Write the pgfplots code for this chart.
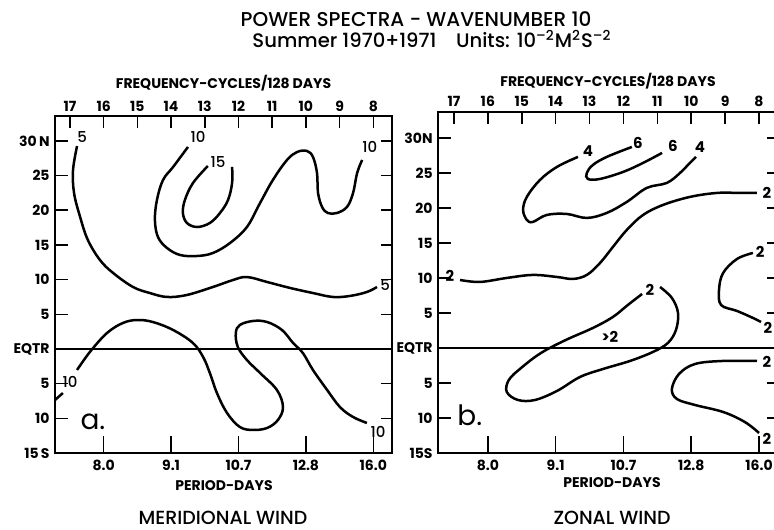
\documentclass[border=0pt]{standalone}
\usepackage{fontspec}
\setmainfont{Poppins}
\newfontfamily\pmed{Poppins Medium}
\usepackage{pgfplots}
\pgfplotsset{compat=1.18}
\pgfplotsset{
  common/.style={scale only axis, x dir=reverse, anchor=south west,
    axis line style={line width=0.9pt}, tick style={line width=0.8pt, black},
    tick align=inside,
    ticklabel style={font=\bfseries\fontsize{7}{8}\selectfont, inner sep=0pt}},
  geomA/.style={common, width=168.5pt, height=168.5pt, xmin=7.445, xmax=17.445, ymin=-15, ymax=33.6, at={(27.5pt,38pt)}},
  geomB/.style={common, width=170pt, height=170.5pt, xmin=7.44, xmax=17.47, ymin=-15, ymax=33.7, at={(219pt,38pt)}},
  botx/.style={xtick={8,10,12,14,16}, xticklabels={16.0,12.8,10.7,9.1,8.0}, xtick pos=left, xticklabel pos=left, ytick=\empty, major tick length=8.5pt, xticklabel style={anchor=north, yshift=-3.5pt}},
  topx/.style={xtick={8,9,10,11,12,13,14,15,16,17}, xticklabels={8,9,10,11,12,13,14,15,16,17}, xtick pos=right, xticklabel pos=right, ytick=\empty, major tick length=6pt, xticklabel style={anchor=base, yshift=#1}},
  lefty/.style={xtick=\empty, ytick={-15,-10,-5,0,5,10,15,20,25,30}, ytick pos=left, yticklabel pos=left, major tick length=6.5pt, yticklabel style={anchor=east, xshift=-2.5pt}},
  righty/.style={xtick=\empty, ytick={-10,-5,5,10,15,20,25,30}, ytick pos=right, yticklabels={}, major tick length=5.5pt},
  cont/.style={black, line width=1.25pt, smooth, tension=0.6, no marks},
}
\begin{document}
\begin{tikzpicture}
\useasboundingbox (0,0) rectangle (387pt,264.5pt);
% ---------------- Panel a: meridional wind
\begin{axis}[geomA, topx=2pt]\end{axis}
\begin{axis}[geomA, lefty, yticklabels={15\,S,10,5,EQTR,5,10,15,20,25,30\,N}]\end{axis}
\begin{axis}[geomA, righty]\end{axis}
\begin{axis}[geomA, botx]
\addplot[black, line width=0.7pt] coordinates {(7.445,0) (17.445,0)};
% contour 5 (north)
\addplot[cont] coordinates {(16.79,29.27) (16.91,25.81) (16.88,22.50) (16.70,19.04) (16.47,15.72) (16.11,12.83) (15.72,10.96) (15.13,8.94) (14.63,8.07) (14.12,7.50) (13.53,7.79) (12.76,8.94) (12.16,9.95) (11.75,10.38) (11.15,9.66) (10.47,8.80) (9.79,8.07) (9.20,7.50) (8.69,7.65) (8.19,8.22) (7.89,8.94)};
% contour 10 (north)
\addplot[cont] coordinates {(13.50,29.13) (13.94,26.25) (14.24,24.37) (14.42,21.49) (14.48,18.60) (14.39,16.15) (14.12,14.56) (13.73,13.55) (13.23,13.41) (12.76,13.84) (12.25,15.29) (11.75,17.59) (11.36,21.05) (10.98,24.37) (10.56,27.26) (10.26,28.41) (9.97,28.56) (9.79,27.69) (9.67,25.38) (9.64,22.50) (9.52,20.48) (9.35,19.61) (9.08,19.61) (8.78,20.48) (8.60,22.50) (8.48,25.38) (8.33,27.26)};
% contour 15
\addplot[cont] coordinates {(12.91,26.39) (13.35,23.94) (13.59,21.49) (13.65,19.61) (13.53,18.17) (13.23,17.59) (12.85,18.17) (12.55,19.61) (12.31,21.49) (12.19,23.94) (12.19,26.25)};
% contour 10 (south)
\addplot[cont] coordinates {(17.445,-7.36) (17.21,-6.35)};
\addplot[cont] coordinates {(16.79,-3.03) (16.41,-0.43) (15.90,2.31) (15.43,3.75) (15.01,4.18) (14.54,3.89) (13.94,2.74) (13.35,0.86) (13.05,-1.16) (12.85,-3.46) (12.64,-6.35) (12.34,-9.23) (11.96,-11.25) (11.57,-11.68) (11.15,-11.39) (10.83,-10.24) (10.68,-8.37) (10.86,-5.91) (11.36,-3.46) (11.75,-1.59) (12.02,0.29) (12.08,2.31) (11.96,3.46) (11.57,4.04) (11.15,3.89) (10.71,2.74) (10.38,0.86) (10.09,-0.58) (9.79,-3.03) (9.37,-5.91) (8.99,-8.37) (8.60,-9.81) (8.19,-10.67)};
\begin{scope}[every node/.style={font=\pmed\fontsize{7.5}{8}\selectfont, inner sep=0.5pt}]
\node at (axis cs:16.64,30.57) {5};
\node at (axis cs:13.20,30.57) {10};
\node at (axis cs:12.61,26.97) {15};
\node at (axis cs:8.10,29.13) {10};
\node at (axis cs:7.65,9.23) {5};
\node at (axis cs:17.0,-4.76) {10};
\node at (axis cs:7.86,-11.97) {10};
\end{scope}
\node[font=\fontsize{14}{14}\selectfont] at (axis cs:16.32,-10.53) {a.};
\end{axis}
% ---------------- Panel b: zonal wind
\begin{axis}[geomB, topx=2.5pt]\end{axis}
\begin{axis}[geomB, lefty, yticklabels={15S,10,5,EQTR,5,10,15,20,25,30N}]\end{axis}
\begin{axis}[geomB, righty]\end{axis}
\begin{axis}[geomB, botx]
\addplot[black, line width=0.7pt] coordinates {(7.44,0) (17.47,0)};
% contour 2 long
\addplot[cont] coordinates {(16.82,9.71) (16.23,9.43) (15.44,10.0) (14.67,10.43) (13.96,10.14) (13.49,9.86) (13.08,10.43) (12.69,12.14) (12.31,14.43) (11.90,16.86) (11.42,19.0) (10.83,20.43) (10.04,21.57) (9.24,22.14) (8.56,22.14) (8.06,22.14)};
% contour 4
\addplot[cont] coordinates {(13.34,27.29) (13.96,25.86) (14.46,24.0) (14.85,21.57) (14.96,19.71) (14.85,18.29) (14.67,18.0) (14.26,19.0) (13.67,19.14) (13.08,18.57) (12.49,19.29) (11.90,20.86) (11.31,22.86) (10.72,23.57) (10.33,25.0) (10.04,26.43) (9.86,27.29)};
% contour 6
\addplot[cont] coordinates {(11.75,28.71) (12.49,27.29) (12.90,26.14) (13.08,25.0) (13.05,24.14) (12.69,24.14) (12.01,25.14) (11.42,26.43) (10.86,27.86)};
% contour 2 right upper
\addplot[cont] coordinates {(8.18,13.57) (8.65,12.71) (9.06,10.71) (9.18,8.29) (9.12,6.14) (8.65,5.29) (8.18,4.29) (7.94,3.71)};
% contour 2 closed (>2)
\addplot[cont] coordinates {(10.92,8.71) (10.57,7.14) (10.39,5.0) (10.45,2.57) (10.69,0.71) (11.13,-0.57) (11.81,-1.86) (12.60,-3.0) (13.28,-4.14) (13.96,-6.14) (14.61,-7.43) (15.11,-7.43) (15.44,-6.29) (15.38,-4.57) (15.02,-2.86) (14.43,-0.71) (13.70,1.14) (12.90,2.86) (12.31,4.43) (11.87,6.14) (11.45,7.71)};
% contour 2 lower right
\addplot[cont] coordinates {(8.06,-1.86) (9.09,-1.86) (9.89,-2.29) (10.36,-3.71) (10.57,-5.86) (10.42,-7.29) (9.89,-8.14) (9.06,-9.14) (8.42,-10.57) (8.00,-12.14)};
\begin{scope}[every node/.style={font=\bfseries\fontsize{7.5}{8}\selectfont, inner sep=0.5pt}]
\node at (axis cs:17.12,10.29) {2};
\node at (axis cs:13.05,28.14) {4};
\node at (axis cs:11.57,29.29) {6};
\node at (axis cs:10.54,28.86) {6};
\node at (axis cs:9.74,28.71) {4};
\node at (axis cs:7.77,22.14) {2};
\node at (axis cs:7.97,13.71) {2};
\node at (axis cs:7.74,2.86) {2};
\node at (axis cs:11.22,8.29) {2};
\node at (axis cs:12.40,1.57) {>2};
\node at (axis cs:7.77,-2.0) {2};
\node at (axis cs:7.77,-13.0) {2};
\end{scope}
\node[font=\fontsize{14}{14}\selectfont] at (axis cs:16.53,-9.57) {b.};
\end{axis}
% ---------------- texts
\node[anchor=base, font=\pmed\fontsize{10}{12}\selectfont] at (208pt,251pt) {POWER SPECTRA - WAVENUMBER 10};
\node[anchor=base, font=\pmed\fontsize{9.8}{12}\selectfont] at (216pt,240.5pt) {Summer 1970+1971\quad Units: 10\textsuperscript{–2}M\textsuperscript{2}S\textsuperscript{–2}};
\node[anchor=base, font=\bfseries\fontsize{7}{8}\selectfont] at (111.75pt,220pt) {FREQUENCY-CYCLES/128 DAYS};
\node[anchor=base, font=\bfseries\fontsize{7}{8}\selectfont] at (304pt,221pt) {FREQUENCY-CYCLES/128 DAYS};
\node[anchor=base, font=\bfseries\fontsize{7}{8}\selectfont] at (112pt,19.5pt) {PERIOD-DAYS};
\node[anchor=base, font=\bfseries\fontsize{7}{8}\selectfont] at (306pt,21pt) {PERIOD-DAYS};
\node[anchor=base, font=\pmed\fontsize{9.5}{10}\selectfont] at (111.5pt,2.2pt) {MERIDIONAL WIND};
\node[anchor=base, font=\pmed\fontsize{9.5}{10}\selectfont] at (306pt,2.2pt) {ZONAL WIND};
\end{tikzpicture}
\end{document}
